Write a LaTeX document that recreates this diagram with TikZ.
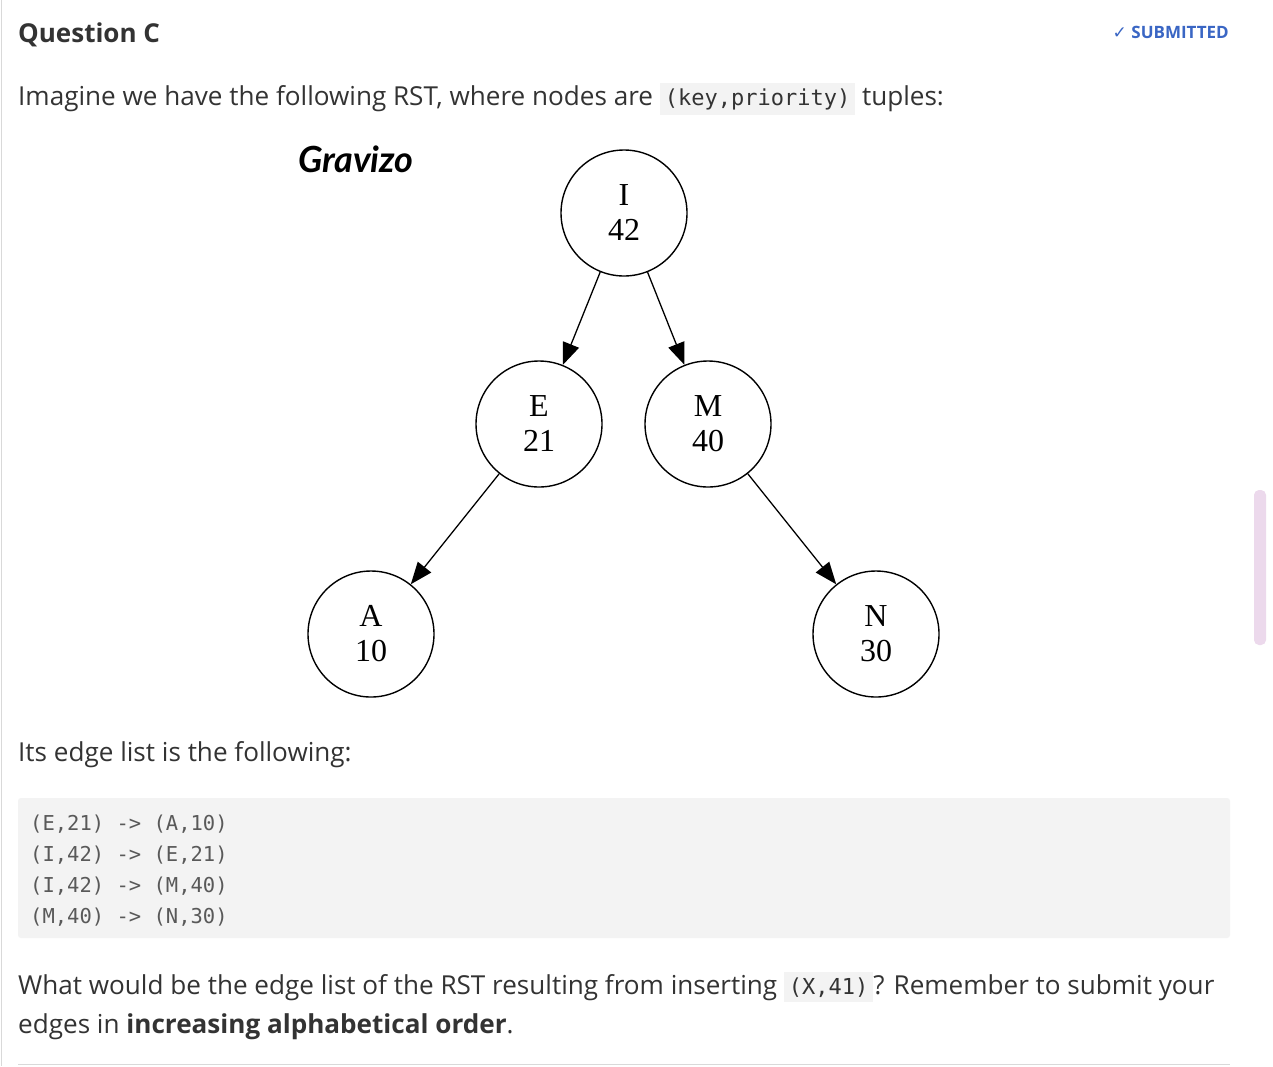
\documentclass[tikz,border=0pt]{standalone}
\usepackage{fontspec}
\setmainfont{Open Sans}
\newfontfamily\codef{DejaVu Sans Mono}
\newfontfamily\nodef{Liberation Serif}
\newfontfamily\logof{Lato}
\newfontfamily\symf{DejaVu Sans}
\usetikzlibrary{arrows.meta}
\definecolor{codebg}{HTML}{F3F3F3}
\definecolor{txt}{HTML}{333333}
\definecolor{sub}{HTML}{3A66C4}
\begin{document}
\begin{tikzpicture}[x=1pt,y=-1pt,
  tn/.style={circle,draw,line width=1.4pt,minimum size=126pt,inner sep=0pt,align=center,font=\nodef\fontsize{32}{35}\selectfont},
  edge/.style={line width=1.3pt,-{Triangle[length=22pt,width=17pt]}},
  body/.style={anchor=base west,inner sep=0pt,text=txt,font=\fontsize{26.1}{30}\selectfont},
  code/.style={anchor=base west,inner sep=0pt,text=black!65,font=\codef\fontsize{20.5}{24}\selectfont},
  chip/.style={fill=codebg,inner sep=5pt,font=\codef\fontsize{22}{24}\selectfont}]
\useasboundingbox (0,0) rectangle (1273,1066);
\fill[white] (0,0) rectangle (1273,1066);
\draw[black!15] (1,0) -- (1,1066);
\fill[violet!15,rounded corners=5pt] (1254,490) rectangle (1266,645);
\draw[black!15] (18,1064) -- (1230,1064);
\node[body,font=\fontsize{26}{30}\selectfont\bfseries] (q) at (18,42) {Question C};
\node[anchor=base east,inner sep=0pt,text=sub,font=\fontsize{17}{20}\selectfont\bfseries] (s) at (1229,38) {{\symf\mdseries ✓} SUBMITTED};
\node[body] (l1) at (18,105) {Imagine we have the following RST, where nodes are \tikz[baseline]\node[chip,anchor=base]{(key,priority)}; tuples:};
\node[anchor=base west,inner sep=0pt,font=\logof\fontsize{36}{40}\selectfont\bfseries\itshape] (logo) at (298,172) {Gravizo};
\node[tn] (I) at (624,213) {I\\42};
\node[tn] (E) at (539,424) {E\\21};
\node[tn] (M) at (708,424) {M\\40};
\node[tn] (A) at (371,634) {A\\10};
\node[tn] (N) at (876,634) {N\\30};
\draw[edge] (I) -- (E);
\draw[edge] (I) -- (M);
\draw[edge] (E) -- (A);
\draw[edge] (M) -- (N);
\node[body] (l2) at (18,761) {Its edge list is the following:};
\fill[codebg,rounded corners=3pt] (18,798) rectangle (1230,938);
\node[code] (c1) at (30,830) {(E,21) -> (A,10)};
\node[code] (c2) at (30,861) {(I,42) -> (E,21)};
\node[code] (c3) at (30,892) {(I,42) -> (M,40)};
\node[code] (c4) at (30,923) {(M,40) -> (N,30)};
\node[body] (l3) at (18,994) {What would be the edge list of the RST resulting from inserting \tikz[baseline]\node[chip,anchor=base]{(X,41)};? Remember to submit your};
\node[body] (l4) at (18,1033) {edges in \textbf{increasing alphabetical order}.};
\end{tikzpicture}
\end{document}
